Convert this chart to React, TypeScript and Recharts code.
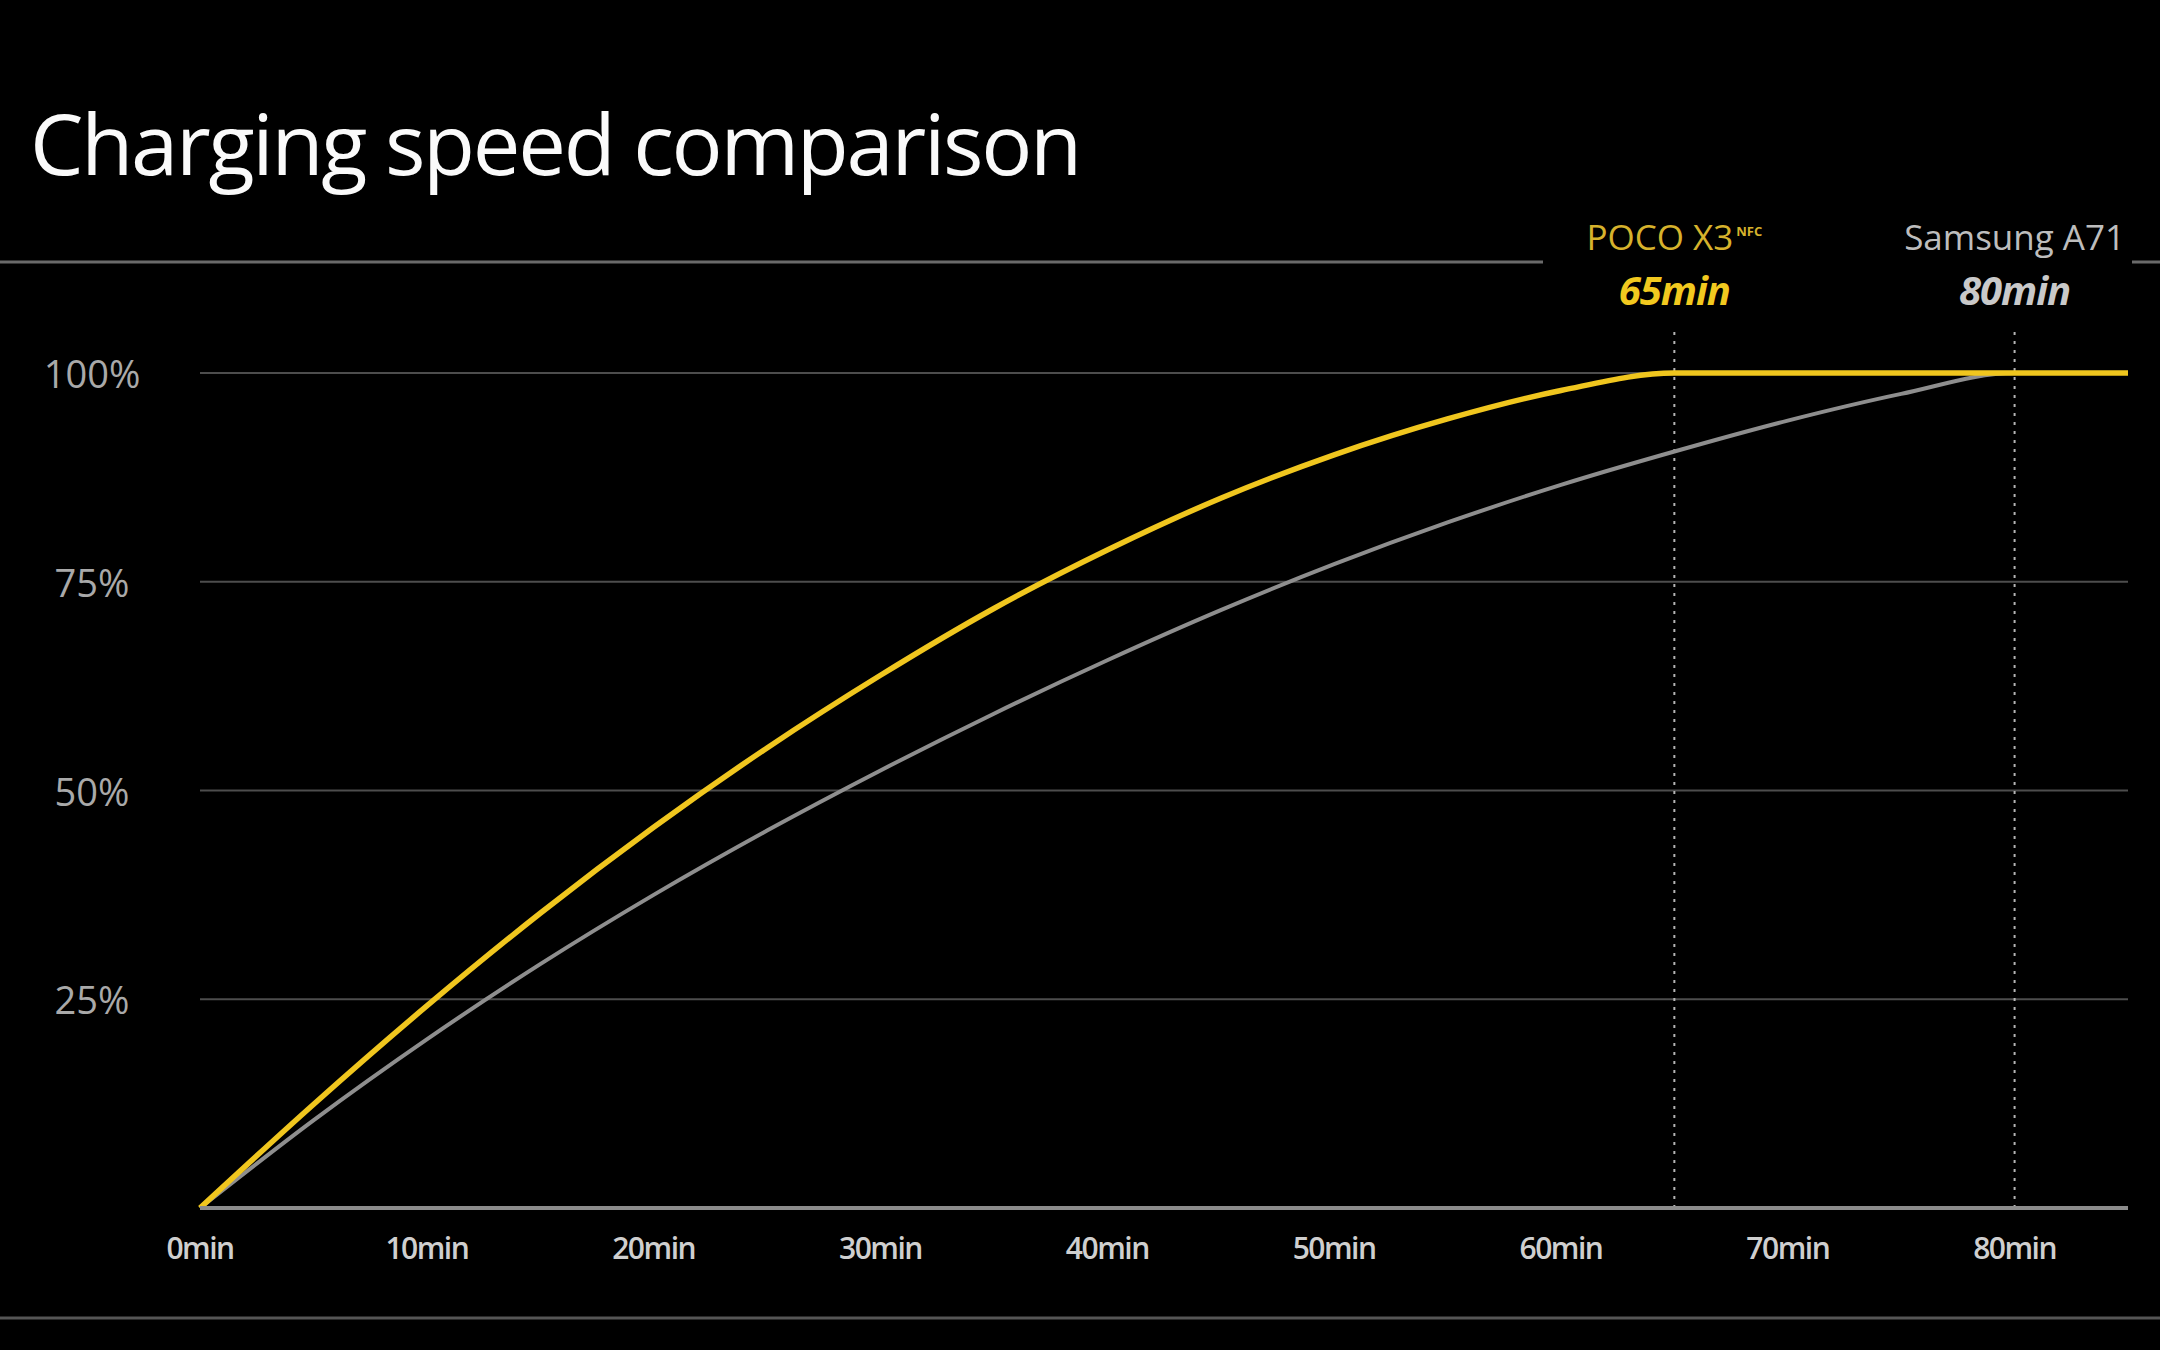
import { LineChart, Line, XAxis, YAxis, CartesianGrid, ReferenceLine } from 'recharts';

const minutes = [0, 5, 10, 15, 20, 25, 30, 35, 40, 45, 50, 55, 60, 65, 70, 75, 80, 85];
const pocoX3 = [0, 12.4, 24.2, 35.3, 45.6, 55.1, 63.8, 71.8, 78.8, 85.0, 90.2, 94.5, 97.9, 100, 100, 100, 100, 100];
const samsungA71 = [0, 10.5, 20.2, 29.2, 37.5, 45.2, 52.4, 59.2, 65.6, 71.6, 77.1, 82.1, 86.6, 90.6, 94.3, 97.5, 100, 100];

const yTicks = [25, 50, 75, 100];
const xTicks = [0, 10, 20, 30, 40, 50, 60, 70, 80];

const markers = [
  { at: 65, name: 'POCO X3', badge: 'NFC', time: '65min', nameColor: '#d6b22c', timeColor: '#f2c91f' },
  { at: 80, name: 'Samsung A71', badge: '', time: '80min', nameColor: '#bdbdbd', timeColor: '#c9c9c9' },
];

const chartData = minutes.map((m, i) => ({ min: m, poco: pocoX3[i], samsung: samsungA71[i] }));

const FONT = '"Open Sans", "Noto Sans", sans-serif';

function YTick({ x, y, payload }: any) {
  return (
    <text x={x - 100} y={y} textAnchor="middle" dominantBaseline="central" fill="#a9a9a9" fontSize={38} fontFamily={FONT}>
      {payload.value}%
    </text>
  );
}

function XTick({ x, y, payload }: any) {
  return (
    <text x={x} y={y + 31} textAnchor="middle" dominantBaseline="central" fill="#cfcfcf" fontSize={30} fontWeight={600} letterSpacing={-1.5} fontFamily={FONT}>
      {payload.value}min
    </text>
  );
}

function MarkerLabel({ viewBox, m }: any) {
  if (!viewBox) return null;
  const x = viewBox.x;
  const top = viewBox.y;
  return (
    <g>
      <text x={x} y={top - 81} textAnchor="middle" fill={m.nameColor} fontSize={35} fontFamily={FONT}>
        {m.name}
        {m.badge && (
          <tspan fontSize={13} fontWeight={700} dx={3} dy={-14}>{m.badge}</tspan>
        )}
      </text>
      <text x={x} y={top - 26} textAnchor="middle" fill={m.timeColor} fontSize={40} fontWeight={700} fontStyle="italic" letterSpacing={-1} fontFamily={FONT}>
        {m.time}
      </text>
    </g>
  );
}

export default function App() {
  return (
    <div style={{ position: 'fixed', left: 0, top: 0, width: 2160, height: 1350, background: '#000', overflow: 'hidden' }}>
      <svg width={2160} height={1350} style={{ position: 'absolute', left: 0, top: 0 }}>
        <text x={30} y={175} fill="#fafafa" fontSize={85} fontWeight={500} letterSpacing={-2.3} fontFamily={FONT}>
          Charging speed comparison
        </text>
        <line x1={0} y1={262} x2={1543} y2={262} stroke="#6a6a6a" strokeWidth={3} />
        <line x1={2132} y1={262} x2={2160} y2={262} stroke="#6a6a6a" strokeWidth={3} />
        <line x1={0} y1={1318} x2={2160} y2={1318} stroke="#555" strokeWidth={3} />
      </svg>
      <div style={{ position: 'absolute', left: 0, top: 0 }}>
        <LineChart width={2160} height={1350} data={chartData} margin={{ top: 373, right: 32, left: 40, bottom: 0 }}>
          <CartesianGrid vertical={false} stroke="#4d4d4d" strokeWidth={2} />
          <XAxis
            dataKey="min"
            type="number"
            domain={[0, 85]}
            ticks={xTicks}
            axisLine={{ stroke: '#8c8c8c', strokeWidth: 4 }}
            tickLine={false}
            tick={<XTick />}
            height={142}
          />
          <YAxis
            type="number"
            domain={[0, 100]}
            ticks={yTicks}
            axisLine={false}
            tickLine={false}
            tick={<YTick />}
            width={160}
          />
          {markers.map(m => (
            <ReferenceLine
              key={m.at}
              segment={[{ x: m.at, y: 0 }, { x: m.at, y: 105 }]}
              ifOverflow="visible"
              stroke="#b5b5b5"
              strokeWidth={2}
              strokeDasharray="3 6"
              label={(props: any) => <MarkerLabel {...props} m={m} />}
            />
          ))}
          <Line type="monotone" dataKey="samsung" stroke="#8e8e8e" strokeWidth={4} dot={false} activeDot={false} isAnimationActive={false} />
          <Line type="monotone" dataKey="poco" stroke="#f0c61e" strokeWidth={5.5} dot={false} activeDot={false} isAnimationActive={false} />
        </LineChart>
      </div>
    </div>
  );
}
